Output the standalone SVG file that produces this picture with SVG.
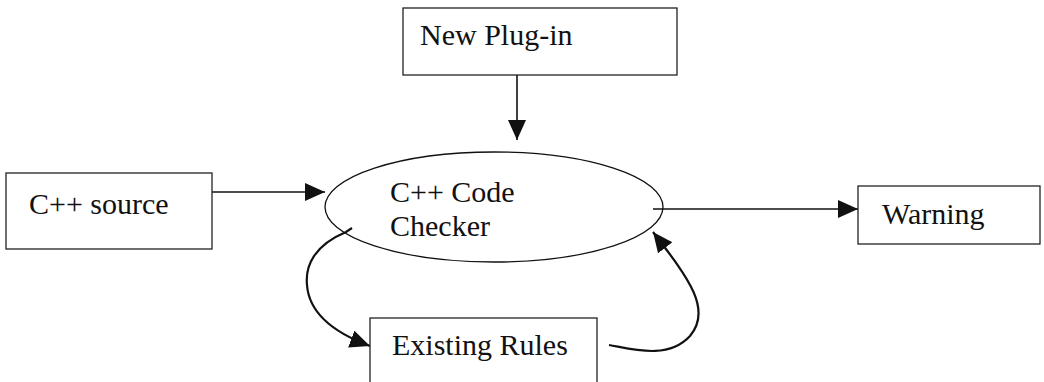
<svg xmlns="http://www.w3.org/2000/svg" width="1044" height="382" viewBox="0 0 1044 382">
  <style>
    .box { fill: #ffffff; stroke: #222222; stroke-width: 1.3; }
    .lbl { font-family: "Liberation Serif", "Times New Roman", serif; font-size: 30px; fill: #111111; }
    .edge { fill: none; stroke: #111111; stroke-width: 1.6; }
    .curve { fill: none; stroke: #111111; stroke-width: 2.2; }
  </style>
  <defs>
    <marker id="head" markerUnits="userSpaceOnUse" markerWidth="22" markerHeight="20" refX="20" refY="9" orient="auto">
      <path d="M0,0 L20,9 L0,18 Z" fill="#111111"/>
    </marker>
  </defs>
  <rect width="1044" height="382" fill="#ffffff"/>

  <g id="connectors">
    <line class="edge" x1="517" y1="75" x2="517" y2="140" marker-end="url(#head)"/>
    <line class="edge" x1="212" y1="192" x2="325" y2="192" marker-end="url(#head)"/>
    <line class="edge" x1="653" y1="209" x2="858" y2="209" marker-end="url(#head)"/>
    <path class="curve" d="M352,228 L346,232 C315,245 305,265 307,285 C309,312 332,332 370,346" marker-end="url(#head)"/>
    <path class="curve" d="M609,345 C632,349 668,360 690,336 C712,310 690,280 653,232" marker-end="url(#head)"/>
  </g>

  <g id="new-plugin">
    <rect class="box" x="403" y="8" width="274" height="67"/>
    <text class="lbl" x="420" y="45">New Plug-in</text>
  </g>

  <g id="cpp-source">
    <rect class="box" x="6" y="173" width="206" height="76"/>
    <text class="lbl" x="29" y="214">C++ source</text>
  </g>

  <g id="code-checker">
    <ellipse cx="494" cy="207" rx="169" ry="55" fill="none" stroke="#111111" stroke-width="1.3"/>
    <text class="lbl" x="390" y="202">C++ Code</text>
    <text class="lbl" x="390" y="236">Checker</text>
  </g>

  <g id="warning">
    <rect class="box" x="858" y="186" width="182" height="58"/>
    <text class="lbl" x="882" y="224">Warning</text>
  </g>

  <g id="existing-rules">
    <rect class="box" x="370" y="318" width="227" height="80"/>
    <text class="lbl" x="392" y="355">Existing Rules</text>
  </g>
</svg>
